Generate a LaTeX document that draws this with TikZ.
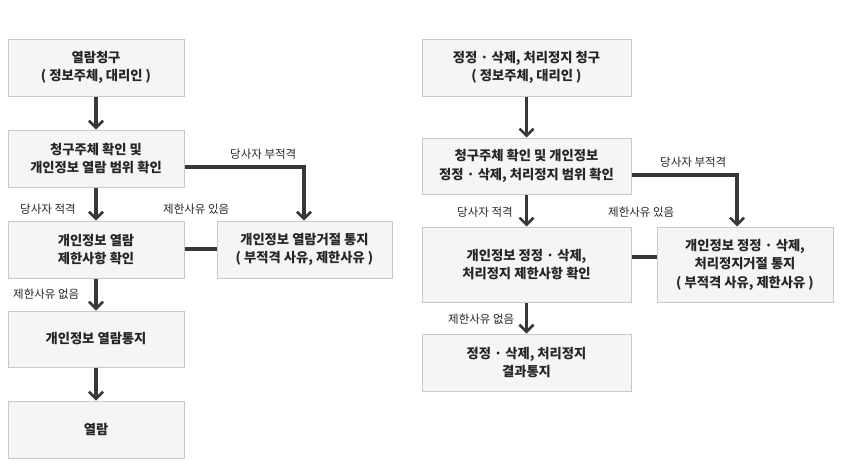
\documentclass[tikz,border=0pt]{standalone}
\usepackage{fontspec}
\setmainfont{Noto Sans CJK KR}
\usetikzlibrary{arrows.meta}
\definecolor{boxfill}{HTML}{F5F5F5}
\definecolor{boxline}{HTML}{C8C8C8}
\definecolor{arr}{HTML}{383838}
\tikzset{
  stepbox/.style={draw=boxline, fill=boxfill, line width=1pt, align=center,
    font=\fontsize{13.3}{18.5}\selectfont\bfseries, text=black!85, inner sep=0pt},
  flow/.style={draw=arr, line width=3.5pt, -{Straight Barb[length=7pt,width=14pt,line width=2.5pt]}},
  link/.style={draw=arr, line width=3.5pt},
  lbl/.style={font=\fontsize{11.5}{14}\selectfont, text=black!85, inner sep=0pt}
}
\newcommand{\boxat}[6]{\node[stepbox, minimum width=#4-#2, minimum height=#5-#3] (#1) at ({(#2+#4)/2},{(#3+#5)/2}) {#6};}
\begin{document}
\begin{tikzpicture}[x=1pt,y=-1pt]
\useasboundingbox (0,0) rectangle (843,464);
% left column
\boxat{a1}{8}{39}{184}{96}{열람청구\\( 정보주체, 대리인 )}
\boxat{a2}{8}{130}{184}{187}{청구주체 확인 및\\개인정보 열람 범위 확인}
\boxat{a3}{8}{221}{184}{278}{개인정보 열람\\제한사항 확인}
\boxat{a4}{217}{221}{392}{278}{개인정보 열람거절 통지\\( 부적격 사유, 제한사유 )}
\boxat{a5}{8}{311}{184}{367}{개인정보 열람통지}
\boxat{a6}{8}{401}{184}{458}{열람}
\draw[flow] (a1.south) -- (a2.north);
\draw[flow] (a2.south) -- (a3.north);
\draw[flow] (a3.south) -- (a5.north);
\draw[flow] (a5.south) -- (a6.north);
\coordinate (ac) at (304,167);
\draw[flow] (a2.east |- ac) -- (ac) -- (ac |- a4.north);
\draw[link] (a3.east |- 0,249) -- (a4.west |- 0,249);
\node[lbl, anchor=west] (la1) at (230,154) {당사자 부적격};
\node[lbl, anchor=west] (la2) at (20,209) {당사자 적격};
\node[lbl, anchor=west] (la3) at (163,209) {제한사유 있음};
\node[lbl, anchor=west] (la4) at (13,294) {제한사유 없음};
% right column
\boxat{b1}{422}{39}{631}{96}{정정 · 삭제, 처리정지 청구\\( 정보주체, 대리인 )}
\boxat{b2}{422}{138}{631}{194}{청구주체 확인 및 개인정보\\정정 · 삭제, 처리정지 범위 확인}
\boxat{b3}{422}{227}{631}{302}{개인정보 정정 · 삭제,\\처리정지 제한사항 확인}
\boxat{b4}{657}{227}{833}{302}{개인정보 정정 · 삭제,\\처리정지거절 통지\\( 부적격 사유, 제한사유 )}
\boxat{b5}{422}{334}{631}{391}{정정 · 삭제, 처리정지\\결과통지}
\draw[flow] (b1.south) -- (b2.north);
\draw[flow] (b2.south) -- (b3.north);
\draw[flow] (b3.south) -- (b5.north);
\coordinate (bc) at (737,175);
\draw[flow] (b2.east |- bc) -- (bc) -- (bc |- b4.north);
\draw[link] (b3.east |- 0,257) -- (b4.west |- 0,257);
\node[lbl, anchor=west] (lb1) at (660,162) {당사자 부적격};
\node[lbl, anchor=west] (lb2) at (457,212) {당사자 적격};
\node[lbl, anchor=west] (lb3) at (608,212) {제한사유 있음};
\node[lbl, anchor=west] (lb4) at (448,319) {제한사유 없음};
\end{tikzpicture}
\end{document}
